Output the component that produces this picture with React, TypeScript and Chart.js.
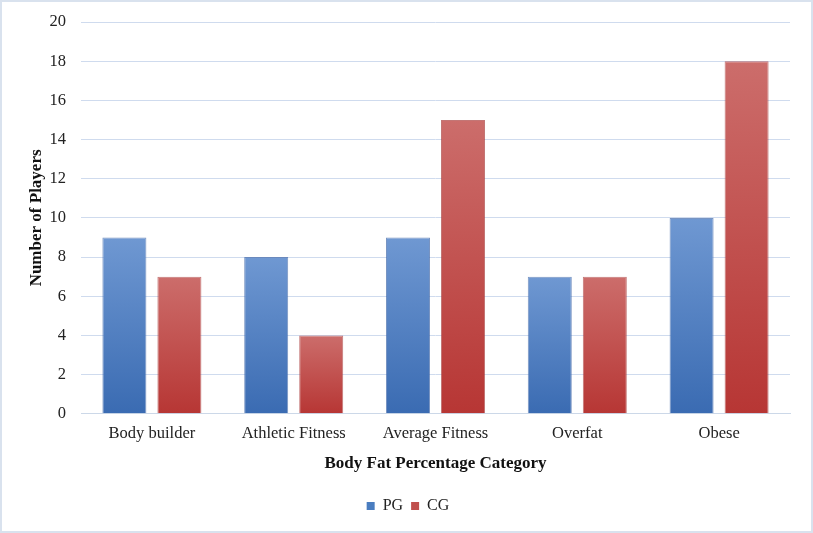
import Chart from 'chart.js/auto';
import { useEffect, useRef } from 'react';

const categories = ['Body builder', 'Athletic Fitness', 'Average Fitness', 'Overfat', 'Obese'];
const pgValues = [9, 8, 9, 7, 10];
const cgValues = [7, 4, 15, 7, 18];
const seriesNames = ['PG', 'CG'];

const FONT = "'Liberation Serif', 'Times New Roman', serif";

// colours of each series: top of gradient, bottom of gradient, edge, legend
const blue = { top: '#6F98D2', bottom: '#3A6BB2', edge: 'rgba(62,103,168,0.7)', solid: '#4A7DC0' };
const red = { top: '#CC6D6B', bottom: '#B73634', edge: 'rgba(170,60,58,0.7)', solid: '#C0504D' };

const gradientFill = (c: any, col: typeof blue) => {
    const chart = c.chart;
    const y = chart.scales?.y;
    if (!chart.chartArea || !y || typeof c.raw !== 'number') return col.solid;
    const top = y.getPixelForValue(c.raw);
    const base = y.getPixelForValue(0);
    if (!isFinite(top) || !isFinite(base) || top === base) return col.solid;
    const g = chart.ctx.createLinearGradient(0, top, 0, base);
    g.addColorStop(0, col.top);
    g.addColorStop(1, col.bottom);
    return g;
};

const frame = {
    id: 'frame',
    beforeDraw(chart: any) {
        const { ctx, width, height } = chart;
        ctx.save();
        ctx.fillStyle = '#ffffff';
        ctx.fillRect(0, 0, width, height);
        ctx.strokeStyle = '#D9E2EE';
        ctx.lineWidth = 2;
        ctx.strokeRect(1, 1, width - 2, height - 2);
        ctx.restore();
    },
};

const App = () => {
    const chartRef = useRef<HTMLCanvasElement>(null);

    useEffect(() => {
        document.body.style.margin = '0';
        if (!chartRef.current) return;
        const ctx = chartRef.current.getContext('2d');
        if (!ctx) return;

        const chart = new Chart(ctx, {
            type: 'bar',
            data: {
                labels: categories,
                datasets: [
                    {
                        label: seriesNames[0],
                        data: pgValues,
                        backgroundColor: (c: any) => gradientFill(c, blue),
                        borderColor: blue.edge,
                        borderWidth: 1,
                        categoryPercentage: 0.776,
                        barPercentage: 0.8,
                    },
                    {
                        label: seriesNames[1],
                        data: cgValues,
                        backgroundColor: (c: any) => gradientFill(c, red),
                        borderColor: red.edge,
                        borderWidth: 1,
                        categoryPercentage: 0.776,
                        barPercentage: 0.8,
                    },
                ],
            },
            options: {
                animation: false,
                responsive: true,
                maintainAspectRatio: false,
                layout: { padding: { left: 26, right: 23, top: 22, bottom: 9 } },
                plugins: {
                    tooltip: { enabled: false },
                    legend: {
                        display: true,
                        position: 'bottom',
                        labels: {
                            font: { family: FONT, size: 16 },
                            color: '#222',
                            boxWidth: 8,
                            boxHeight: 8,
                            padding: 8,
                            generateLabels: () =>
                                [blue, red].map((col, i) => ({
                                    text: seriesNames[i],
                                    fillStyle: col.solid,
                                    strokeStyle: col.solid,
                                    lineWidth: 0,
                                    datasetIndex: i,
                                    hidden: false,
                                    fontColor: '#222',
                                })),
                        },
                    },
                },
                scales: {
                    x: {
                        grid: { display: false, drawTicks: false },
                        border: { display: true, color: '#CCD8E8', width: 1 },
                        ticks: {
                            font: { family: FONT, size: 16.5 },
                            color: '#222',
                            padding: 10,
                            maxRotation: 0,
                        },
                        title: {
                            display: true,
                            text: 'Body Fat Percentage Category',
                            font: { family: FONT, size: 17, weight: 'bold' },
                            color: '#111',
                            padding: { top: 0, bottom: 16 },
                        },
                    },
                    y: {
                        min: 0,
                        max: 20,
                        grid: { color: '#CFDBEE', lineWidth: 1, drawTicks: false },
                        border: { display: false },
                        ticks: {
                            stepSize: 2,
                            font: { family: FONT, size: 16.5 },
                            color: '#222',
                            padding: 15,
                        },
                        title: {
                            display: true,
                            text: 'Number of Players',
                            font: { family: FONT, size: 17, weight: 'bold' },
                            color: '#111',
                            padding: { top: 0, bottom: 0 },
                        },
                        afterFit: (scale: any) => {
                            scale.width = 55;
                            scale.paddingTop = 0;
                            scale.paddingBottom = 0;
                        },
                    },
                },
            },
            plugins: [frame],
        });
        chart.update();

        return () => {
            chart.destroy();
        };
    }, []);

    return (
        <div style={{ position: 'relative', width: '813px', height: '533px' }}>
            <canvas ref={chartRef}></canvas>
        </div>
    );
};

export default App;
